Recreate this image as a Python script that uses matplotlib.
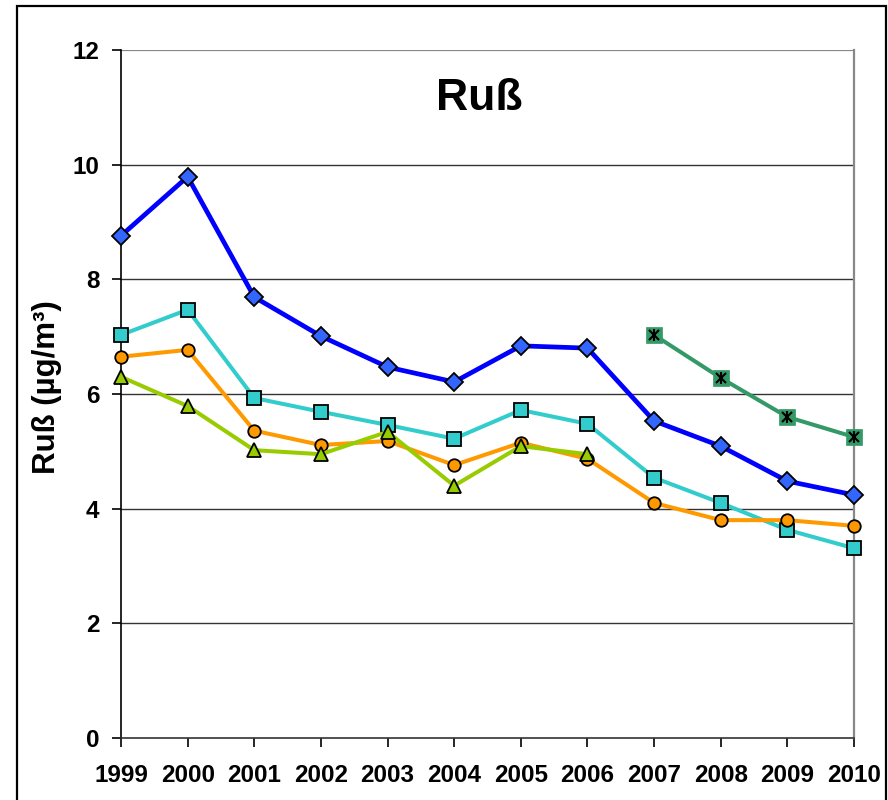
import matplotlib
matplotlib.use("Agg")
import matplotlib.pyplot as plt
from matplotlib.patches import Rectangle

plt.rcParams['font.family'] = ['Liberation Sans', 'DejaVu Sans']

years = [1999, 2000, 2001, 2002, 2003, 2004, 2005, 2006, 2007, 2008, 2009, 2010]

series_blue = [8.76, 9.79, 7.69, 7.01, 6.47, 6.21, 6.84, 6.80, 5.53, 5.09, 4.48, 4.24]
series_cyan = [7.03, 7.47, 5.93, 5.69, 5.46, 5.22, 5.72, 5.48, 4.54, 4.10, 3.63, 3.31]
series_orange = [6.65, 6.77, 5.36, 5.11, 5.18, 4.76, 5.15, 4.87, 4.10, 3.80, 3.80, 3.70]
years_green = [1999, 2000, 2001, 2002, 2003, 2004, 2005, 2006]
series_green = [6.30, 5.79, 5.02, 4.95, 5.34, 4.40, 5.09, 4.95]
years_dark = [2007, 2008, 2009, 2010]
series_dark = [7.03, 6.28, 5.60, 5.25]

y_ticks = [0, 2, 4, 6, 8, 10, 12]

fig = plt.figure(figsize=(8.88, 8.0), dpi=100)
ax = fig.add_axes([121 / 888, 1 - 738 / 800, (854 - 121) / 888, (738 - 50) / 800])

# outer chart frame
fig.patches.append(Rectangle((17 / 888, -0.02), (886 - 17) / 888, 1 - 6 / 800 + 0.02,
                             transform=fig.transFigure, fill=False,
                             edgecolor='black', linewidth=1.6, zorder=0))

ax.plot(years, series_blue, color='#0000FF', lw=3.4, marker='D', ms=9,
        mfc='#3366FF', mec='black', mew=1.3, clip_on=False, zorder=3)
ax.plot(years, series_cyan, color='#33CCCC', lw=2.9, marker='s', ms=10,
        mfc='#33CCCC', mec='black', mew=1.3, clip_on=False, zorder=4)
ax.plot(years, series_orange, color='#FF9900', lw=2.9, marker='o', ms=9,
        mfc='#FF9900', mec='black', mew=1.3, clip_on=False, zorder=5)
ax.plot(years_green, series_green, color='#99CC00', lw=2.9, marker='^', ms=10.5,
        mfc='#99CC00', mec='black', mew=1.3, clip_on=False, zorder=6)
ax.plot(years_dark, series_dark, color='#339966', lw=2.9, marker='s', ms=11.5,
        mfc='#339966', mec='#339966', mew=0.5, clip_on=False, zorder=7)
# star marker: an X crossed by a vertical stroke
ax.plot(years_dark, series_dark, ls='none', marker='x', ms=7,
        mec='black', mew=1.5, clip_on=False, zorder=8)
ax.plot(years_dark, series_dark, ls='none', marker='|', ms=9,
        mec='black', mew=1.5, clip_on=False, zorder=8)

ax.set_xlim(1999, 2010)
ax.set_ylim(0, 12)
ax.set_xticks(years)
ax.set_xticklabels([str(y) for y in years])
ax.set_yticks(y_ticks)

for v in y_ticks[1:-1]:
    ax.axhline(v, color='#333333', lw=1.0, zorder=1)
ax.axhline(12, color='#888888', lw=1.6, zorder=1)

ax.spines['top'].set_visible(False)
ax.spines['right'].set_color('#888888')
ax.spines['right'].set_linewidth(1.6)
ax.spines['left'].set_color('black')
ax.spines['left'].set_linewidth(1.2)
ax.spines['bottom'].set_color('#333333')
ax.spines['bottom'].set_linewidth(1.2)

ax.tick_params(axis='both', direction='out', length=6.5, width=1.2, colors='black',
               labelsize=17.5)
ax.tick_params(axis='y', pad=9)
ax.tick_params(axis='x', pad=12)
for lab in ax.get_xticklabels() + ax.get_yticklabels():
    lab.set_fontweight('bold')

ax.set_ylabel('Ruß (µg/m³)', fontsize=22.5, fontweight='bold')
ax.yaxis.set_label_coords(-0.081, 0.51)

ax.text(0.489, 0.929, 'Ruß', transform=ax.transAxes, ha='center', va='center',
        fontsize=32, fontweight='bold')

fig.savefig('out.png', dpi=100)
